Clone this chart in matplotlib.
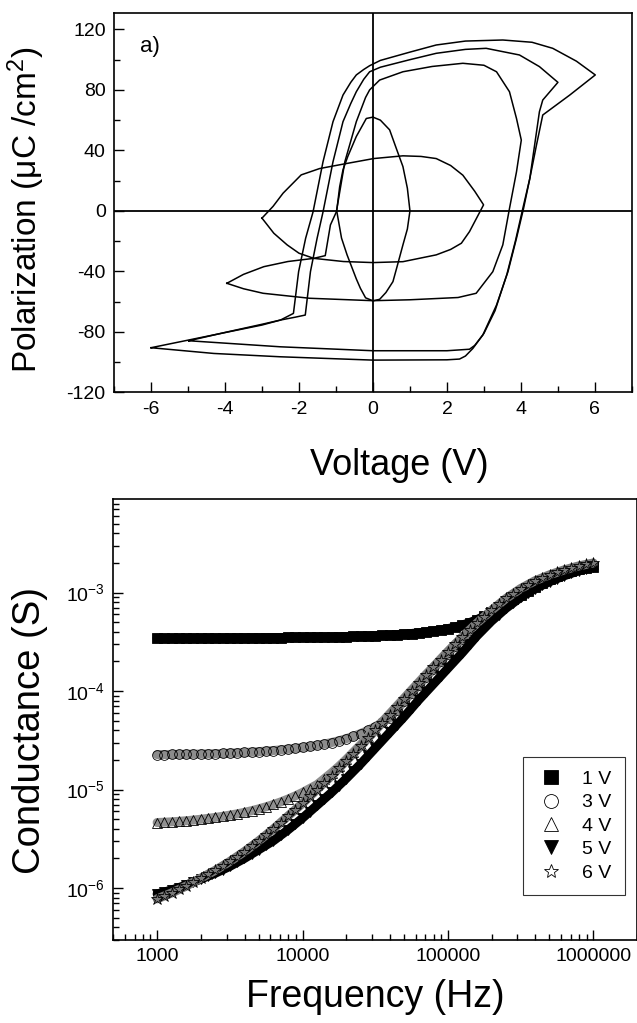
import numpy as np
import matplotlib
matplotlib.use("Agg")
import matplotlib.pyplot as plt
from matplotlib.ticker import MultipleLocator, LogLocator, FixedLocator, FuncFormatter, NullFormatter

plt.rcParams['font.family'] = ['Liberation Sans', 'DejaVu Sans']
plt.rcParams['mathtext.fontset'] = 'custom'
plt.rcParams['mathtext.rm'] = 'Liberation Sans'
plt.rcParams['mathtext.it'] = 'Liberation Sans:italic'
plt.rcParams['axes.unicode_minus'] = False

# ---- a) P-V hysteresis loops (V, uC/cm2) ----
v_1v = [0.0, 0.2, 0.45, 0.65, 0.81, 0.93, 1.0, 0.93, 0.81, 0.65, 0.54, 0.35, 0.18, 0.0,
        -0.2, -0.34, -0.45, -0.7, -0.85, -0.98, -0.9, -0.81, -0.68, -0.45, -0.18, 0.0]
p_1v = [62, 60, 53.6, 40, 29.3, 15, 0, -12, -22.5, -37, -46.8, -54, -58.5, -59.5,
        -57.5, -51.2, -45, -29.1, -18, 0, 16, 27.2, 36, 49.2, 61.1, 62]

v_3v = [-3.0, -2.7, -2.43, -1.94, -1.44, -0.72, 0.02, 0.81, 1.3, 1.71, 2.1, 2.43, 2.75, 2.99,
        2.61, 2.39, 2.1, 1.71, 0.81, 0.0, -0.8, -1.6, -2.0, -2.32, -2.68, -3.0]
p_3v = [-4.8, 3, 11.7, 23.8, 28, 31.3, 34.6, 36.4, 36, 34.6, 30, 23.6, 13, 4,
        -13.7, -21.4, -25.5, -29.1, -33.6, -34.2, -33.5, -31.4, -28, -22.5, -14.8, -4.8]

v_4v = [-3.95, -3.5, -2.95, -2.3, -1.6, -1.29, -1.15, -0.99, -0.76, -0.45, -0.2, -0.09, 0.18,
        0.81, 1.6, 2.43, 3.0, 3.34, 3.69, 3.88, 4.01, 3.88, 3.69, 3.51, 3.24, 2.79, 2.3, 1.0,
        0.0, -1.71, -2.97, -3.5, -3.95]
p_4v = [-47.9, -42, -36.9, -33.5, -31.4, -29.6, -9.3, -0.7, 32.5, 59, 75, 80, 86.5,
        92, 95.5, 97.6, 96.3, 92, 78.8, 61.1, 46.8, 25.8, 1.5, -22.5, -40.2, -54.5, -57.3, -58.8,
        -59.4, -57.8, -54.5, -51.5, -47.9]

v_5v = [-4.98, -4.0, -3.0, -2.5, -2.1, -1.83, -1.69, -1.51, -1.35, -1.08, -0.81, -0.6, -0.45,
        -0.25, -0.09, 0.2, 1.0, 1.71, 2.5, 3.06, 3.96, 4.5, 5.0, 4.59, 4.5, 4.37, 4.24, 4.07,
        3.88, 3.65, 3.34, 2.97, 2.75, 2.61, 2.0, 0.0, -2.5, -4.98]
p_5v = [-85.9, -80.4, -75.0, -72.2, -70.3, -68.9, -40.2, -18.1, -0.7, 32.5, 59, 71, 78.8,
        87, 92, 95, 100, 104.2, 106.8, 107.5, 103.1, 95.4, 85, 73.3, 65.6, 43.5, 21.4, 1.5,
        -18.1, -40.2, -62.3, -82.1, -89, -91.5, -92.5, -92.5, -89.9, -85.9]

v_6v = [-6.0, -5.0, -4.0, -3.0, -2.5, -2.15, -2.01, -1.82, -1.62, -1.35, -1.08, -0.81, -0.6,
        -0.45, -0.25, -0.09, 0.2, 1.0, 1.71, 2.5, 3.51, 4.3, 4.86, 5.5, 6.01, 5.32, 4.59, 4.42,
        4.24, 4.05, 3.85, 3.62, 3.3, 3.0, 2.7, 2.5, 2.34, 2.0, 0.0, -2.5, -4.3, -6.0]
p_6v = [-90.5, -85.5, -80.5, -75.5, -72.2, -67.8, -40.2, -18.1, -0.7, 32.5, 59, 76.6, 85,
        89.9, 93.5, 96, 99.5, 105, 109.7, 112.3, 113, 111.5, 107.5, 99, 89.9, 76.6, 63.4, 43.5,
        21.4, 1.5, -20, -42, -66, -81, -91, -96, -98, -98.5, -98.7, -96.5, -94.3, -90.5]

# ---- b) conductance vs frequency, log10 values read every 0.05 decade ----
log_f = np.round(np.arange(3.0, 6.0001, 0.05), 2)
freq = 10 ** log_f

logg_1v = [-3.465, -3.465, -3.465, -3.464, -3.464, -3.463, -3.463, -3.462, -3.462, -3.461,
           -3.461, -3.460, -3.460, -3.459, -3.459, -3.458, -3.457, -3.457, -3.456, -3.455,
           -3.454, -3.453, -3.452, -3.451, -3.450, -3.449, -3.447, -3.445, -3.443, -3.441,
           -3.438, -3.435, -3.431, -3.427, -3.422, -3.416, -3.409, -3.401, -3.391, -3.380,
           -3.367, -3.350, -3.330, -3.305, -3.275, -3.240, -3.200, -3.155, -3.110, -3.065,
           -3.020, -2.980, -2.940, -2.900, -2.865, -2.835, -2.805, -2.785, -2.765, -2.750,
           -2.740]
logg_3v = [-4.645, -4.645, -4.644, -4.643, -4.642, -4.641, -4.640, -4.638, -4.636, -4.634,
           -4.631, -4.628, -4.624, -4.620, -4.615, -4.610, -4.604, -4.597, -4.590, -4.582,
           -4.573, -4.563, -4.551, -4.538, -4.523, -4.505, -4.484, -4.460, -4.432, -4.400,
           -4.362, -4.318, -4.270, -4.190, -4.100, -4.020, -3.940, -3.860, -3.780, -3.700,
           -3.620, -3.545, -3.470, -3.400, -3.330, -3.265, -3.200, -3.140, -3.085, -3.030,
           -2.985, -2.940, -2.900, -2.870, -2.840, -2.815, -2.790, -2.770, -2.750, -2.735,
           -2.720]
logg_4v = [-5.335, -5.332, -5.328, -5.323, -5.317, -5.310, -5.302, -5.293, -5.283, -5.272,
           -5.260, -5.247, -5.232, -5.215, -5.196, -5.175, -5.152, -5.126, -5.097, -5.065,
           -5.030, -4.990, -4.950, -4.890, -4.830, -4.765, -4.695, -4.620, -4.545, -4.465,
           -4.385, -4.310, -4.230, -4.150, -4.070, -3.990, -3.910, -3.830, -3.755, -3.675,
           -3.600, -3.525, -3.455, -3.385, -3.320, -3.255, -3.190, -3.130, -3.075, -3.020,
           -2.975, -2.930, -2.890, -2.860, -2.830, -2.805, -2.780, -2.760, -2.740, -2.725,
           -2.710]
logg_5v = [-6.06, -6.04, -6.02, -5.995, -5.97, -5.94, -5.91, -5.88, -5.85, -5.815,
           -5.78, -5.74, -5.70, -5.655, -5.61, -5.565, -5.52, -5.465, -5.41, -5.35,
           -5.29, -5.225, -5.16, -5.095, -5.03, -4.96, -4.89, -4.815, -4.74, -4.66,
           -4.58, -4.50, -4.42, -4.34, -4.26, -4.175, -4.09, -4.01, -3.93, -3.85,
           -3.77, -3.69, -3.61, -3.525, -3.44, -3.365, -3.29, -3.225, -3.16, -3.105,
           -3.05, -3.005, -2.96, -2.925, -2.89, -2.86, -2.83, -2.805, -2.78, -2.76,
           -2.74]
logg_6v = [-6.11, -6.08, -6.05, -6.015, -5.98, -5.94, -5.90, -5.86, -5.82, -5.775,
           -5.73, -5.68, -5.63, -5.575, -5.52, -5.46, -5.40, -5.335, -5.27, -5.205,
           -5.14, -5.07, -5.00, -4.93, -4.86, -4.785, -4.71, -4.635, -4.56, -4.48,
           -4.40, -4.32, -4.24, -4.16, -4.08, -4.00, -3.92, -3.84, -3.76, -3.68,
           -3.60, -3.525, -3.45, -3.38, -3.31, -3.245, -3.18, -3.12, -3.06, -3.01,
           -2.96, -2.92, -2.88, -2.85, -2.82, -2.795, -2.77, -2.75, -2.73, -2.715,
           -2.70]

labels = ['1 V', '3 V', '4 V', '5 V', '6 V']
markers = ['s', 'o', '^', 'v', '*']
filled = [True, False, False, True, False]
band_colors = ['black', '#8c8c8c', '#909090', 'black', '#7a7a7a']

fig = plt.figure(figsize=(6.37, 10.23), dpi=100)

# top panel
ax1 = fig.add_axes([0.179, 0.6165, 0.813, 0.371])
for v, p in [(v_1v, p_1v), (v_3v, p_3v), (v_4v, p_4v), (v_5v, p_5v), (v_6v, p_6v)]:
    ax1.plot(v, p, color='black', lw=1.1)
ax1.axhline(0, color='black', lw=1.3)
ax1.axvline(0, color='black', lw=1.3)
ax1.set_xlim(-7, 7)
ax1.set_ylim(-120, 131)
ax1.xaxis.set_major_locator(MultipleLocator(2))
ax1.xaxis.set_minor_locator(MultipleLocator(1))
ax1.yaxis.set_major_locator(MultipleLocator(40))
ax1.yaxis.set_minor_locator(MultipleLocator(20))
ax1.set_xlabel('Voltage (V)', fontsize=26, labelpad=22)
ax1.xaxis.label.set_x(0.55)
ax1.set_ylabel('Polarization ($\\mathrm{\\mu}$C /cm$^2$)', fontsize=24)
ax1.yaxis.set_label_coords(-0.13, 0.48)
ax1.text(0.05, 0.91, 'a)', transform=ax1.transAxes, fontsize=16, va='center')

# bottom panel
ax2 = fig.add_axes([0.178, 0.0816, 0.822, 0.4306])
series = [logg_1v, logg_3v, logg_4v, logg_5v, logg_6v]
for lg, lab, mk, fl, bc in zip(series, labels, markers, filled, band_colors):
    g = 10 ** np.array(lg)
    ax2.plot(freq, g, color=bc, lw=6.5, solid_capstyle='round', label='_nolegend_')
    ms = 9 if mk == '*' else 7
    ax2.plot(freq, g, ls='none', marker=mk, ms=ms, mfc='black' if fl else 'none',
             mec='black', mew=0.6, label=lab)
ax2.set_xscale('log')
ax2.set_yscale('log')
ax2.set_xlim(500, 2e6)
ax2.set_ylim(3e-7, 8.9e-3)
ax2.xaxis.set_major_locator(FixedLocator([1e3, 1e4, 1e5, 1e6]))
ax2.xaxis.set_major_formatter(FuncFormatter(lambda x, pos: '%d' % round(x)))
ax2.xaxis.set_minor_locator(LogLocator(base=10, subs=np.arange(2, 10), numticks=20))
ax2.xaxis.set_minor_formatter(NullFormatter())
ax2.yaxis.set_minor_locator(LogLocator(base=10, subs=np.arange(2, 10), numticks=20))
ax2.yaxis.set_minor_formatter(NullFormatter())
ax2.set_xlabel('Frequency (Hz)', fontsize=27, labelpad=10)
ax2.set_ylabel('Conductance (S)', fontsize=27.5)
ax2.yaxis.set_label_coords(-0.125, 0.475)
leg = ax2.legend(loc='upper left', bbox_to_anchor=(0.782, 0.415), borderaxespad=0,
                 fontsize=14, frameon=True, fancybox=False, edgecolor='black',
                 handlelength=1.47, handletextpad=0.86, labelspacing=0.3, borderpad=0.7)
leg.get_frame().set_linewidth(0.8)
for h, fl in zip(leg.legend_handles, filled):
    h.set_markerfacecolor('black' if fl else 'white')
    h.set_markersize(10)

for ax in (ax1, ax2):
    ax.tick_params(which='both', direction='in', labelsize=14, width=1.0)
    ax.tick_params(which='major', length=7, pad=6)
    ax.tick_params(which='minor', length=4)
    for s in ax.spines.values():
        s.set_linewidth(1.2)

fig.savefig('out.png', dpi=100)
